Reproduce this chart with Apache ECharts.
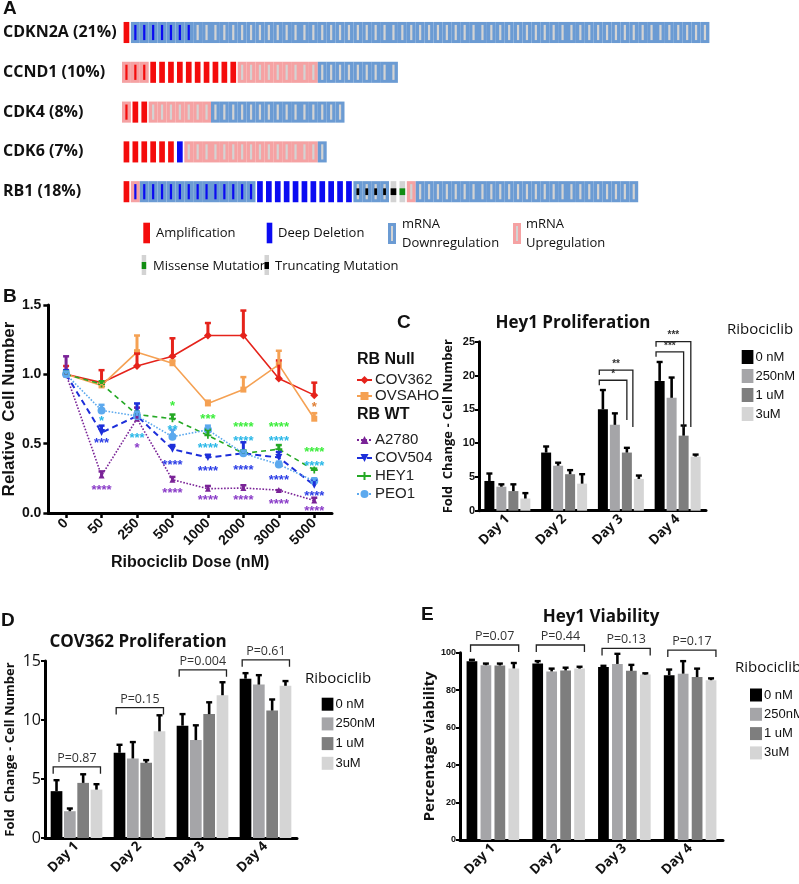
<!DOCTYPE html>
<html><head><meta charset="utf-8">
<script src="https://cdn.jsdelivr.net/npm/echarts/dist/echarts.min.js"></script>
<style>html,body{margin:0;padding:0;background:#fff}#c{width:799px;height:884px}</style>
</head><body><div id="c"></div>
<script>
// ================= DATA =================
// Panel A : oncoprint (run-length encoded alteration columns per gene)
const genes = ['CDKN2A (21%)','CCND1 (10%)','CDK4 (8%)','CDK6 (7%)','RB1 (18%)'];
const cdkn2aRuns = [['A',1],['XD',7],['D',58]];
const ccnd1Runs  = [['AU',3],['A',10],['U',9],['D',9]];
const cdk4Runs   = [['AU',1],['A',2],['U',7],['D',15]];
const cdk6Runs   = [['A',6],['X',1],['U',15],['D',1]];
const rb1Runs    = [['A',1],['XU',1],['XD',13],['X',11],['TD',4],['T',1],['M',1],['U',1],['D',25]];
const sampleCount = 66;

// Panel B : relative cell number vs ribociclib dose
const doses = ['0','50','250','500','1000','2000','3000','5000'];
const cov362    = [1.00,0.94,1.06,1.13,1.28,1.28,0.97,0.85];
const cov362Err = [0.06,0.09,0.09,0.13,0.09,0.18,0.13,0.09];
const ovsaho    = [1.00,0.92,1.16,1.08,0.79,0.89,1.07,0.68];
const ovsahoErr = [0.03,0.02,0.12,0.02,0.02,0.09,0.10,0.04];
const a2780     = [1.00,0.27,0.68,0.24,0.175,0.18,0.165,0.09];
const a2780Err  = [0.13,0.03,0.08,0.02,0.02,0.02,0.00,0.02];
const cov504    = [1.00,0.58,0.70,0.46,0.40,0.43,0.40,0.20];
const cov504Err = [0.03,0.05,0.09,0.03,0.02,0.08,0.04,0.04];
const hey1      = [1.00,0.93,0.71,0.68,0.56,0.43,0.46,0.31];
const hey1Err   = [0.02,0.02,0.02,0.03,0.04,0.02,0.03,0.01];
const peo1      = [1.00,0.74,0.70,0.55,0.60,0.43,0.35,0.23];
const peo1Err   = [0.02,0.04,0.03,0.05,0.03,0.02,0.02,0.02];
// significance marks [dose index, level, text]
const starsOvsaho = [[7,0.78,'*']];
const starsA2780  = [[1,0.185,'****'],[2,0.49,'*'],[3,0.16,'****'],[4,0.11,'****'],[5,0.11,'****'],[6,0.085,'****'],[7,0.03,'****']];
const starsCov504 = [[1,0.52,'***'],[3,0.365,'****'],[4,0.32,'****'],[5,0.33,'****'],[6,0.26,'****'],[7,0.14,'****']];
const starsHey1   = [[3,0.79,'*'],[4,0.70,'***'],[5,0.64,'****'],[6,0.64,'****'],[7,0.46,'****']];
const starsPeo1   = [[1,0.68,'*'],[2,0.557,'***'],[3,0.62,'**'],[4,0.49,'****'],[5,0.535,'****'],[6,0.54,'****'],[7,0.36,'****']];

// Panels C-E
const days = ['Day 1','Day 2','Day 3','Day 4'];
const doseGroups = ['0 nM','250nM','1 uM','3uM'];
// C : Hey1 proliferation
const heyProlif0   = [4.4, 8.6, 15.0, 19.2];
const heyProlif250 = [3.55, 6.65, 12.7, 16.7];
const heyProlif1u  = [2.9, 5.4, 8.6, 11.1];
const heyProlif3u  = [1.8, 4.0, 4.7, 8.0];
const heyProlifErr0   = [1.1, 0.9, 2.85, 2.8];
const heyProlifErr250 = [0.35, 0.45, 1.7, 3.0];
const heyProlifErr1u  = [1.0, 0.6, 0.7, 1.5];
const heyProlifErr3u  = [0.8, 1.4, 0.5, 0.3];
// [day, from bar, to bar, level, right end level, stars]
const heyProlifSig = [[2,-0.3,2.5,20.8,12.4,'**'],[2,-0.3,2,19.3,13.4,'*'],[3,-0.3,2.6,25.0,12.4,'***'],[3,-0.3,2,23.5,12.2,'***']];
// D : COV362 proliferation
const covProlif0   = [3.97, 7.22, 9.52, 13.5];
const covProlif250 = [2.27, 6.74, 8.3, 13.0];
const covProlif1u  = [4.67, 6.37, 10.5, 10.8];
const covProlif3u  = [4.1, 9.04, 12.1, 12.9];
const covProlifErr0   = [0.93, 0.68, 0.98, 0.47];
const covProlifErr250 = [0.23, 1.39, 1.25, 0.8];
const covProlifErr1u  = [0.73, 0.23, 1.0, 0.94];
const covProlifErr3u  = [0.46, 1.36, 1.1, 0.4];
const covProlifP = [[0,-0.25,3.3,6.03,'P=0.87'],[1,-0.25,3.3,11.05,'P=0.15'],[2,-0.25,3.3,14.25,'P=0.004'],[3,-0.25,3.3,15.1,'P=0.61']];
// E : Hey1 viability
const heyViab0   = [95.5, 94.3, 92.3, 88.0];
const heyViab250 = [93.3, 90.0, 94.0, 88.8];
const heyViab1u  = [93.2, 90.5, 90.3, 87.0];
const heyViab3u  = [91.6, 91.5, 88.3, 85.3];
const heyViabErr0   = [0.7, 1.2, 0.7, 3.0];
const heyViabErr250 = [0.9, 1.5, 5.4, 6.7];
const heyViabErr1u  = [1.0, 1.5, 3.2, 4.5];
const heyViabErr3u  = [2.9, 1.0, 0.7, 1.0];
const heyViabP = [[0,-0.1,3.35,104.1,'P=0.07'],[1,-0.1,3.35,104.1,'P=0.44'],[2,-0.1,3.35,102.3,'P=0.13'],[3,-0.1,3.35,101.4,'P=0.17']];

// ================= BUILD =================
const ARIAL = 'Liberation Sans, Arial, sans-serif';
const OPEN = 'Open Sans, Liberation Sans, sans-serif';
const BAR_COLORS = ['#000000','#a5a5a8','#7e7e7e','#d5d5d5'];

const cells = [];
[cdkn2aRuns, ccnd1Runs, cdk4Runs, cdk6Runs, rb1Runs].forEach((runs, g) => {
  let i = 0;
  runs.forEach(([code, n]) => { for (let k = 0; k < n; k++) { cells.push([i, g, code]); i++; } });
});

const BLUE_BG = '#6b9bd3', PINK_BG = '#f5a2a3', GRAY = '#d3d3d3', RED = '#f40c0c', DEEP = '#0b0bf2';
function oncoRender(params, api) {
  const c = cells[params.dataIndex];
  const p = api.coord([c[0] + 0.5, c[1]]);
  const w = api.size([1, 0], [c[0], c[1]])[0];
  const H = api.size([0, 1], [c[0], c[1]])[1] * 0.53;
  const x0 = p[0] - w / 2, y0 = p[1] - H / 2;
  const ch = [];
  const R = (x, y, ww, hh, fill) => ch.push({type:'rect', shape:{x, y, width:ww, height:hh}, style:{fill}});
  const thin = (fill) => R(p[0] - 1.1, p[1] - H * 0.36, 2.2, H * 0.72, fill);
  const full = (fill) => R(p[0] - w * 0.32, y0, w * 0.64, H, fill);
  switch (c[2]) {
    case 'D': R(x0, y0, w, H, BLUE_BG); thin(GRAY); break;
    case 'U': R(x0, y0, w, H, PINK_BG); thin(GRAY); break;
    case 'A': full(RED); break;
    case 'AU': R(x0, y0, w, H, PINK_BG); thin(RED); break;
    case 'X': full(DEEP); break;
    case 'XD': R(x0, y0, w, H, BLUE_BG); thin(DEEP); break;
    case 'XU': R(x0, y0, w, H, PINK_BG); thin(DEEP); break;
    case 'TD': R(x0, y0, w, H, BLUE_BG); thin(GRAY); R(p[0] - 1.4, p[1] - H * 0.16, 2.8, H * 0.32, '#000'); break;
    case 'T': full(GRAY); R(p[0] - w * 0.32, p[1] - H * 0.16, w * 0.64, H * 0.32, '#000'); break;
    case 'M': full(GRAY); R(p[0] - w * 0.32, p[1] - H * 0.16, w * 0.64, H * 0.32, '#128c12'); break;
  }
  return {type:'group', children:ch};
}

// ---- panel B helpers ----
function errSeries(vals, errs, color) {
  return {type:'custom', xAxisIndex:1, yAxisIndex:1, z:4, silent:true,
    data: vals.map((v, i) => [i, v, errs[i]]), encode:{x:0, y:1},
    renderItem: (params, api) => {
      const i = api.value(0), v = api.value(1), e = api.value(2);
      const a = api.coord([i, v]), b = api.coord([i, v + e]);
      return {type:'group', children:[
        {type:'line', shape:{x1:a[0], y1:a[1], x2:b[0], y2:b[1]}, style:{stroke:color, lineWidth:3}},
        {type:'line', shape:{x1:b[0]-3, y1:b[1], x2:b[0]+3, y2:b[1]}, style:{stroke:color, lineWidth:2.5}}
      ]};
    }};
}
function starSeries(arr, color) {
  return {type:'custom', xAxisIndex:1, yAxisIndex:1, z:6, silent:true,
    data: arr.map(d => [d[0], d[1]]), encode:{x:0, y:1},
    renderItem: (params, api) => {
      const p = api.coord([api.value(0), api.value(1)]);
      return {type:'text', x:p[0], y:p[1] + 3,
        style:{text:arr[params.dataIndex][2], fill:color, font:'bold 13px ' + ARIAL, align:'center', verticalAlign:'middle'}};
    }};
}
function lineSeries(name, vals, color, symbol, lineType, extra) {
  return Object.assign({type:'line', name, xAxisIndex:1, yAxisIndex:1, data:vals, z:3,
    symbol, symbolSize:7, lineStyle:{color, width:1.6, type:lineType}, itemStyle:{color}}, extra || {});
}

// ---- bar panel helpers ----
function slotX(api, day, pos, catGap, barGap) {
  const bw = api.size([1, 0])[0];
  const total = bw * (1 - catGap);
  const w = total / (4 + 3 * barGap);
  const c = api.coord([day, 0])[0];
  return c - total / 2 + w / 2 + pos * w * (1 + barGap);
}
function barPanel(gi, vals, errs, catGap, barGap) {
  const out = [];
  vals.forEach((v, k) => out.push({type:'bar', name:doseGroups[k], xAxisIndex:gi, yAxisIndex:gi, data:v,
    barCategoryGap:(catGap*100)+'%', barGap:(barGap*100)+'%', itemStyle:{color:BAR_COLORS[k]}, z:2, silent:true}));
  const ed = [];
  errs.forEach((e, k) => e.forEach((ev, d) => ed.push([d, k, vals[k][d], ev])));
  out.push({type:'custom', xAxisIndex:gi, yAxisIndex:gi, z:3, silent:true, data:ed, encode:{x:0, y:2},
    renderItem: (params, api) => {
      const d = api.value(0), k = api.value(1), v = api.value(2), e = api.value(3);
      const x = slotX(api, d, k, catGap, barGap);
      const y0 = api.coord([d, v])[1], y1 = api.coord([d, v + e])[1];
      return {type:'group', children:[
        {type:'line', shape:{x1:x, y1:y0, x2:x, y2:y1}, style:{stroke:'#000', lineWidth:2.6}},
        {type:'line', shape:{x1:x-3, y1:y1, x2:x+3, y2:y1}, style:{stroke:'#000', lineWidth:2.4}}
      ]};
    }});
  return out;
}
function pBracketSeries(gi, arr, catGap, barGap) {
  return {type:'custom', xAxisIndex:gi, yAxisIndex:gi, z:5, silent:true,
    data: arr.map(b => [b[0], b[3]]), encode:{x:0, y:1},
    renderItem: (params, api) => {
      const b = arr[params.dataIndex];
      const xl = slotX(api, b[0], b[1], catGap, barGap), xr = slotX(api, b[0], b[2], catGap, barGap);
      const y = api.coord([b[0], b[3]])[1];
      return {type:'group', children:[
        {type:'polyline', shape:{points:[[xl, y + 7], [xl, y], [xr, y], [xr, y + 7]]}, style:{stroke:'#222', lineWidth:1.3, fill:null}},
        {type:'text', x:(xl + xr) / 2, y:y - 2, style:{text:b[4], fill:'#333', font:'12.5px ' + OPEN, align:'center', verticalAlign:'bottom'}}
      ]};
    }};
}
function starBracketSeries(gi, arr, catGap, barGap) {
  return {type:'custom', xAxisIndex:gi, yAxisIndex:gi, z:5, silent:true,
    data: arr.map(b => [b[0], b[3]]), encode:{x:0, y:1},
    renderItem: (params, api) => {
      const b = arr[params.dataIndex];
      const xl = slotX(api, b[0], b[1], catGap, barGap), xr = slotX(api, b[0], b[2], catGap, barGap);
      const y = api.coord([b[0], b[3]])[1], yr = api.coord([b[0], b[4]])[1];
      return {type:'group', children:[
        {type:'polyline', shape:{points:[[xl, y + 5], [xl, y], [xr, y], [xr, yr]]}, style:{stroke:'#222', lineWidth:1.3, fill:null}},
        {type:'text', x:(xl + xr) / 2, y:y - 1, style:{text:b[5], fill:'#333', font:'bold 10px ' + ARIAL, align:'center', verticalAlign:'bottom'}}
      ]};
    }};
}

// ---- axes ----
const axLine = {show:true, lineStyle:{color:'#000', width:3}};
function catX(gi, data, label) {
  return {gridIndex:gi, type:'category', data, axisLine:axLine,
    axisTick:{show:false}, axisLabel:Object.assign({rotate:45, margin:6, color:'#111', fontSize:13.5, fontWeight:'bold', fontFamily:OPEN, interval:0}, label || {})};
}
function valY(gi, min, max, interval, label, name, nameStyle, nameGap) {
  return {gridIndex:gi, type:'value', min, max, interval, splitLine:{show:false},
    axisLine:axLine, axisTick:{show:true, length:4, lineStyle:{width:2, color:'#000'}},
    axisLabel:Object.assign({margin:4, color:'#111'}, label),
    name, nameLocation:'middle', nameGap, nameTextStyle:nameStyle};
}

const CAT_C = 0.19, GAP_C = 0.2, CAT_D = 0.18, GAP_D = 0.14, CAT_E = 0.2, GAP_E = 0.3;

const series = [
  {type:'custom', xAxisIndex:0, yAxisIndex:0, silent:true, data:cells.map(c => [c[0], c[1]]), encode:{x:0, y:1}, renderItem:oncoRender},
  lineSeries('COV362', cov362, '#e5231b', 'diamond', 'solid', {symbolSize:8}),
  lineSeries('OVSAHO', ovsaho, '#f5a153', 'rect', 'solid', {symbolSize:6}),
  lineSeries('A2780', a2780, '#7a2397', 'triangle', 'dotted', {symbolSize:6}),
  lineSeries('COV504', cov504, '#1d2fda', 'triangle', 'dashed', {symbolSize:7, symbolRotate:180, lineStyle:{color:'#1d2fda', width:2, type:[6,4]}}),
  lineSeries('HEY1', hey1, '#25a925', 'path://M3,0H5V3H8V5H5V8H3V5H0V3H3Z', 'dashed', {symbolSize:7, lineStyle:{color:'#25a925', width:1.6, type:[5,4]}}),
  lineSeries('PEO1', peo1, '#5ca9ee', 'circle', 'dotted', {symbolSize:8}),
  errSeries(cov362, cov362Err, '#e5231b'),
  errSeries(ovsaho, ovsahoErr, '#f5a153'),
  errSeries(a2780, a2780Err, '#7a2397'),
  errSeries(cov504, cov504Err, '#1d2fda'),
  errSeries(hey1, hey1Err, '#25a925'),
  errSeries(peo1, peo1Err, '#5ca9ee'),
  starSeries(starsOvsaho, '#e08038'),
  starSeries(starsA2780, '#8a3cc8'),
  starSeries(starsCov504, '#2b3de6'),
  starSeries(starsHey1, '#3cee3c'),
  starSeries(starsPeo1, '#2ab8e8'),
  ...barPanel(2, [heyProlif0, heyProlif250, heyProlif1u, heyProlif3u], [heyProlifErr0, heyProlifErr250, heyProlifErr1u, heyProlifErr3u], CAT_C, GAP_C),
  starBracketSeries(2, heyProlifSig, CAT_C, GAP_C),
  ...barPanel(3, [covProlif0, covProlif250, covProlif1u, covProlif3u], [covProlifErr0, covProlifErr250, covProlifErr1u, covProlifErr3u], CAT_D, GAP_D),
  pBracketSeries(3, covProlifP, CAT_D, GAP_D),
  ...barPanel(4, [heyViab0, heyViab250, heyViab1u, heyViab3u], [heyViabErr0, heyViabErr250, heyViabErr1u, heyViabErr3u], CAT_E, GAP_E),
  pBracketSeries(4, heyViabP, CAT_E, GAP_E)
];

// ---- static texts / panel A legend ----
const G = [];
function T(x, y, text, font, extra) { G.push({type:'text', x, y, silent:true, style:Object.assign({text, font, fill:'#111', align:'left', verticalAlign:'middle'}, extra || {})}); }
function Rc(x, y, w, h, fill) { G.push({type:'rect', silent:true, shape:{x, y, width:w, height:h}, style:{fill}}); }
T(3, 9, 'A', 'bold 19px ' + ARIAL);
T(3, 297, 'B', 'bold 19px ' + ARIAL);
T(397, 323, 'C', 'bold 19px ' + ARIAL);
T(1, 621, 'D', 'bold 19px ' + ARIAL);
T(421, 615, 'E', 'bold 19px ' + ARIAL);
// A legend
Rc(143.3, 222.7, 6.7, 20.6, RED); T(156, 233, 'Amplification', '13px ' + OPEN);
Rc(266.7, 222.7, 5.6, 20.6, DEEP); T(278, 233, 'Deep Deletion', '13px ' + OPEN);
Rc(388, 223, 8, 21, BLUE_BG); Rc(391, 226, 2, 15, GRAY); T(402, 224, 'mRNA', '13px ' + OPEN); T(402, 243, 'Downregulation', '13px ' + OPEN);
Rc(513, 223, 8, 21, PINK_BG); Rc(516, 226, 2, 15, GRAY); T(526, 224, 'mRNA', '13px ' + OPEN); T(526, 243, 'Upregulation', '13px ' + OPEN);
Rc(141.7, 255, 4.5, 20, GRAY); Rc(141.7, 262, 4.5, 7, '#128c12'); T(153, 266, 'Missense Mutation', '13px ' + OPEN);
Rc(264.5, 255, 4.5, 20, GRAY); Rc(264.5, 262, 4.5, 7, '#000'); T(275, 266, 'Truncating Mutation', '13px ' + OPEN);
// B legend headers
T(357, 360, 'RB Null', 'bold 16px ' + ARIAL);
T(357, 415, 'RB WT', 'bold 16px ' + ARIAL);
// titles
T(573, 323, 'Hey1 Proliferation', 'bold 17px ' + OPEN, {align:'center'});
T(138, 642, 'COV362 Proliferation', 'bold 17px ' + OPEN, {align:'center'});
T(601, 617, 'Hey1 Viability', 'bold 17px ' + OPEN, {align:'center'});
T(727, 330, 'Ribociclib', '15px ' + OPEN);
T(305, 679, 'Ribociclib', '15px ' + OPEN);
T(735, 668, 'Ribociclib', '15px ' + OPEN);

function barLegend(left, top, iw, ih, gap) {
  return {orient:'vertical', left, top, itemWidth:iw, itemHeight:ih, itemGap:gap, icon:'rect', selectedMode:false,
    data:doseGroups, textStyle:{fontSize:13, fontFamily:ARIAL, color:'#111', lineHeight:ih, padding:[0,0,0,-3]}};
}

const option = {
  animation:false,
  backgroundColor:'#fff',
  textStyle:{fontFamily:ARIAL},
  grid:[
    {left:122, top:12.6, width:sampleCount * 8.9, height:199},
    {left:48, top:305, width:284, height:208},
    {left:479, top:341.7, width:227, height:169},
    {left:45, top:661, width:252, height:177},
    {left:460, top:652.7, width:263, height:187.3}
  ],
  xAxis:[
    {gridIndex:0, type:'value', min:0, max:sampleCount, show:false},
    {gridIndex:1, type:'category', data:doses, axisLine:axLine,
      axisTick:{show:true, alignWithLabel:true, length:5, lineStyle:{width:2.5, color:'#000'}},
      axisLabel:{rotate:45, margin:8, interval:0, fontSize:14, fontWeight:'bold', fontFamily:ARIAL, color:'#111'},
      name:'Ribociclib Dose (nM)', nameLocation:'middle', nameGap:42,
      nameTextStyle:{fontSize:16, fontWeight:'bold', fontFamily:ARIAL, color:'#111'}},
    catX(2, days),
    catX(3, days),
    catX(4, days)
  ],
  yAxis:[
    {gridIndex:0, type:'category', data:genes, inverse:true, axisLine:{show:false}, axisTick:{show:false},
      axisLabel:{align:'left', margin:119, fontSize:16, fontWeight:'bold', fontFamily:OPEN, color:'#111'}},
    Object.assign(valY(1, 0, 1.5, 0.5, {fontSize:14, fontWeight:'bold', fontFamily:ARIAL, margin:7, formatter:v => v.toFixed(1)},
      'Relative  Cell Number', {fontSize:17, fontWeight:'bold', fontFamily:ARIAL, color:'#111'}, 25),
      {axisTick:{show:true, length:5, lineStyle:{width:2.5, color:'#000'}}}),
    valY(2, 0, 25, 5, {fontSize:11, fontWeight:'bold', fontFamily:ARIAL},
      'Fold  Change - Cell Number', {fontSize:13, fontWeight:'bold', fontFamily:OPEN, color:'#111'}, 24),
    valY(3, 0, 15, 5, {fontSize:16, fontFamily:OPEN},
      'Fold  Change - Cell Number', {fontSize:13, fontWeight:'bold', fontFamily:OPEN, color:'#111'}, 28),
    valY(4, 0, 100, 20, {fontSize:9, fontWeight:'bold', fontFamily:ARIAL},
      'Percentage Viability', {fontSize:15, fontWeight:'bold', fontFamily:OPEN, color:'#111'}, 14)
  ],
  legend:[
    {orient:'vertical', left:351, top:367, itemWidth:15, itemHeight:10, itemGap:0, selectedMode:false,
      data:['COV362','OVSAHO'], textStyle:{fontSize:15, fontFamily:ARIAL, color:'#222', lineHeight:16, padding:[0,0,0,-2]}},
    {orient:'vertical', left:351, top:427, itemWidth:15, itemHeight:10, itemGap:2, selectedMode:false,
      data:['A2780','COV504','HEY1','PEO1'], textStyle:{fontSize:15, fontFamily:ARIAL, color:'#222', lineHeight:16, padding:[0,0,0,-2]}},
    barLegend(736.7, 345, 11.7, 14, 5),
    barLegend(316.7, 692.7, 11.7, 13, 6.7),
    barLegend(745, 683.5, 12, 13, 6.3)
  ],
  graphic:G,
  series
};
const chart = echarts.init(document.getElementById('c'));
chart.setOption(option);
</script></body></html>
